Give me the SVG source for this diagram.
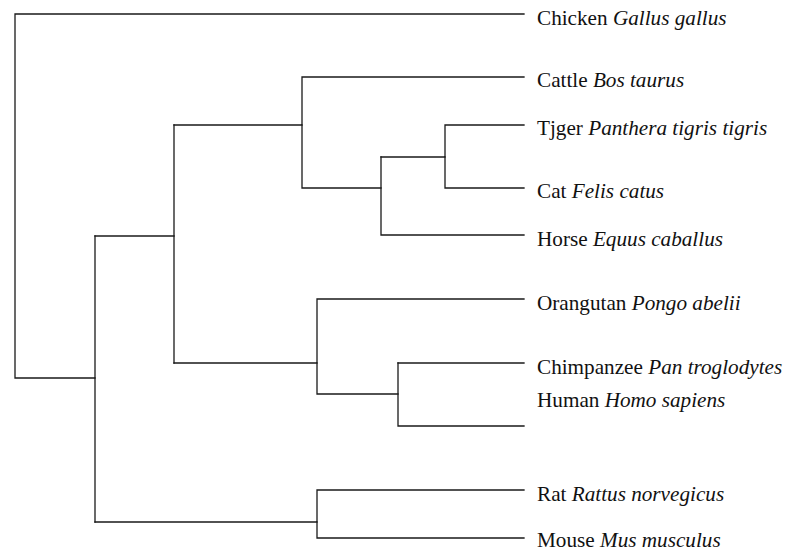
<svg xmlns="http://www.w3.org/2000/svg" width="787" height="550" viewBox="0 0 787 550">
<style>
.e{fill:none;stroke:#1a1a1a;stroke-width:1.3;stroke-linecap:square}
.t{font-family:"Liberation Serif","Times New Roman",serif;font-size:21.2px;fill:#111}
.s{font-style:italic}
</style>
<rect width="787" height="550" fill="#fff"/>
<g id="connectors">
<path class="e" d="M524 14H15V378H95"/>
<path class="e" d="M95 236V522"/>
<path class="e" d="M95 236H174"/>
<path class="e" d="M174 125V363"/>
<path class="e" d="M174 125H302V77H524"/>
<path class="e" d="M302 125V188H381"/>
<path class="e" d="M381 157V235H524"/>
<path class="e" d="M381 157H445V125H524"/>
<path class="e" d="M445 157V188H524"/>
<path class="e" d="M174 363H317V299H524"/>
<path class="e" d="M317 363V394H398"/>
<path class="e" d="M398 363H524"/>
<path class="e" d="M398 363V426H524"/>
<path class="e" d="M95 522H317V490H524"/>
<path class="e" d="M317 522V538H524"/>
</g>
<g id="chicken"><text class="t" x="537" y="25">Chicken <tspan class="s">Gallus gallus</tspan></text></g>
<g id="cattle"><text class="t" x="537" y="87">Cattle <tspan class="s">Bos taurus</tspan></text></g>
<g id="tiger"><text class="t" x="537" y="135">Tjger <tspan class="s">Panthera tigris tigris</tspan></text></g>
<g id="cat"><text class="t" x="537" y="198">Cat <tspan class="s">Felis catus</tspan></text></g>
<g id="horse"><text class="t" x="537" y="246">Horse <tspan class="s">Equus caballus</tspan></text></g>
<g id="orangutan"><text class="t" x="537" y="310">Orangutan <tspan class="s">Pongo abelii</tspan></text></g>
<g id="chimpanzee"><text class="t" x="537" y="374">Chimpanzee <tspan class="s">Pan troglodytes</tspan></text></g>
<g id="human"><text class="t" x="537" y="407">Human <tspan class="s">Homo sapiens</tspan></text></g>
<g id="rat"><text class="t" x="537" y="501">Rat <tspan class="s">Rattus norvegicus</tspan></text></g>
<g id="mouse"><text class="t" x="537" y="547">Mouse <tspan class="s">Mus musculus</tspan></text></g>
</svg>
